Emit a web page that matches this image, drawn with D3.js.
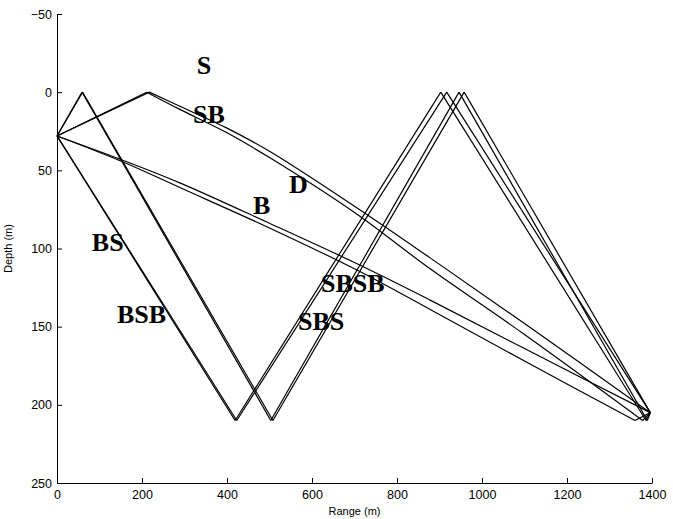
<!DOCTYPE html>
<html>
<head>
<meta charset="utf-8">
<script src="https://cdn.jsdelivr.net/npm/d3@7"></script>
<style>
  body { margin: 0; background: #fff; }
  .axis text { font-family: "Liberation Sans", Arial, sans-serif; font-size: 12.5px; fill: #000; }
  .axis path, .axis line { stroke: #000; }
  .ray-label { font-family: "Liberation Serif", "Times New Roman", serif; font-weight: bold; font-size: 26px; fill: #000; }
  .axis-title { font-family: "Liberation Sans", Arial, sans-serif; font-size: 11px; fill: #000; }
</style>
</head>
<body>
<div class="ray-plot"></div>
<script>
// eigenrays, [range (m), depth (m)]
const rayD    = [[0,28],[150,43],[289,58],[501,84],[700,109],[878,133],[1100,164],[1396,205]];
const rayB    = [[0,28],[150,44],[289,61],[501,87],[700,113],[878,139],[1100,172],[1360,210],[1396,205]];
const rayS    = [[0,28],[217,0],[289,9],[400,23],[501,38],[700,73],[878,106],[1100,148],[1396,205]];
const raySB   = [[0,28],[211,0],[289,11],[400,26],[501,42],[700,77],[878,113],[1100,155],[1378,210],[1396,205]];
const rayBS   = [[0,28],[423,210],[917,0],[1396,205]];
const rayBSB  = [[0,28],[419,210],[903,0],[1386,210],[1396,205]];
const raySBS  = [[0,28],[60,0],[508,210],[958,0],[1396,205]];
const raySBSB = [[0,28],[59,0],[503,210],[946,0],[1389,210],[1396,205]];

const rays = [rayD, rayB, rayS, raySB, rayBS, rayBSB, raySBS, raySBSB];

// labels: text, range, depth (baseline)
const labelText  = ['S', 'SB', 'D', 'B', 'BS', 'BSB', 'SBSB', 'SBS'];
const labelRange = [329, 320, 546, 461, 82, 141, 621, 567];
const labelDepth = [-11.7, 19.6, 64.4, 77.9, 101.5, 147.6, 127.8, 152];

const xTicks = [0, 200, 400, 600, 800, 1000, 1200, 1400];
const yTicks = [-50, 0, 50, 100, 150, 200, 250];

const surface = 0, bottom = 210;

const margin = ({top: 14, bottom: 36, right: 21, left: 57});
const width = 673 - margin.left - margin.right;
const height = 519 - margin.top - margin.bottom;

const svg = d3.select('.ray-plot')
    .append('svg')
    .attr('width', 673)
    .attr('height', 519)
    .append('g')
    .attr('transform', `translate(${margin.left},${margin.top})`);

const xScale = d3.scaleLinear()
    .domain([0, 1400])
    .range([0, width]);

const yScale = d3.scaleLinear()
    .domain([-50, 250])
    .range([0, height]);

const xAxis = d3.axisBottom(xScale)
    .tickValues(xTicks)
    .tickFormat(d3.format('d'))
    .tickSizeInner(-5)
    .tickSizeOuter(0)
    .tickPadding(7);

const yAxis = d3.axisLeft(yScale)
    .tickValues(yTicks)
    .tickFormat(d3.format('d'))
    .tickSizeInner(-5)
    .tickSizeOuter(0)
    .tickPadding(5);

svg.append('g')
    .attr('class', 'axis x-axis')
    .attr('transform', `translate(0,${height})`)
    .call(xAxis);

svg.append('g')
    .attr('class', 'axis y-axis')
    .call(yAxis);

// split a ray into legs at surface / bottom bounces so corners stay sharp
function legs(ray) {
    const out = [];
    let cur = [ray[0]];
    for (let i = 1; i < ray.length; i++) {
        cur.push(ray[i]);
        if (i < ray.length - 1 && (ray[i][1] === surface || ray[i][1] === bottom)) {
            out.push(cur);
            cur = [ray[i]];
        }
    }
    out.push(cur);
    return out;
}

const line = d3.line()
    .curve(d3.curveCatmullRom)
    .x(d => xScale(d[0]))
    .y(d => yScale(d[1]));

svg.selectAll('.ray')
    .data(rays.flatMap(legs))
    .enter()
    .append('path')
    .attr('class', 'ray')
    .attr('d', line)
    .attr('fill', 'none')
    .attr('stroke', 'black')
    .attr('stroke-width', 1.2);

svg.selectAll('.ray-label')
    .data(labelText)
    .enter()
    .append('text')
    .attr('class', 'ray-label')
    .attr('x', (d, i) => xScale(labelRange[i]))
    .attr('y', (d, i) => yScale(labelDepth[i]))
    .text(d => d);

svg.append('text')
    .attr('class', 'axis-title')
    .attr('x', width / 2)
    .attr('y', height + 32)
    .attr('text-anchor', 'middle')
    .text('Range (m)');

svg.append('text')
    .attr('class', 'axis-title')
    .attr('transform', `translate(${-45},${height / 2}) rotate(-90)`)
    .attr('text-anchor', 'middle')
    .text('Depth (m)');
</script>
</body>
</html>
